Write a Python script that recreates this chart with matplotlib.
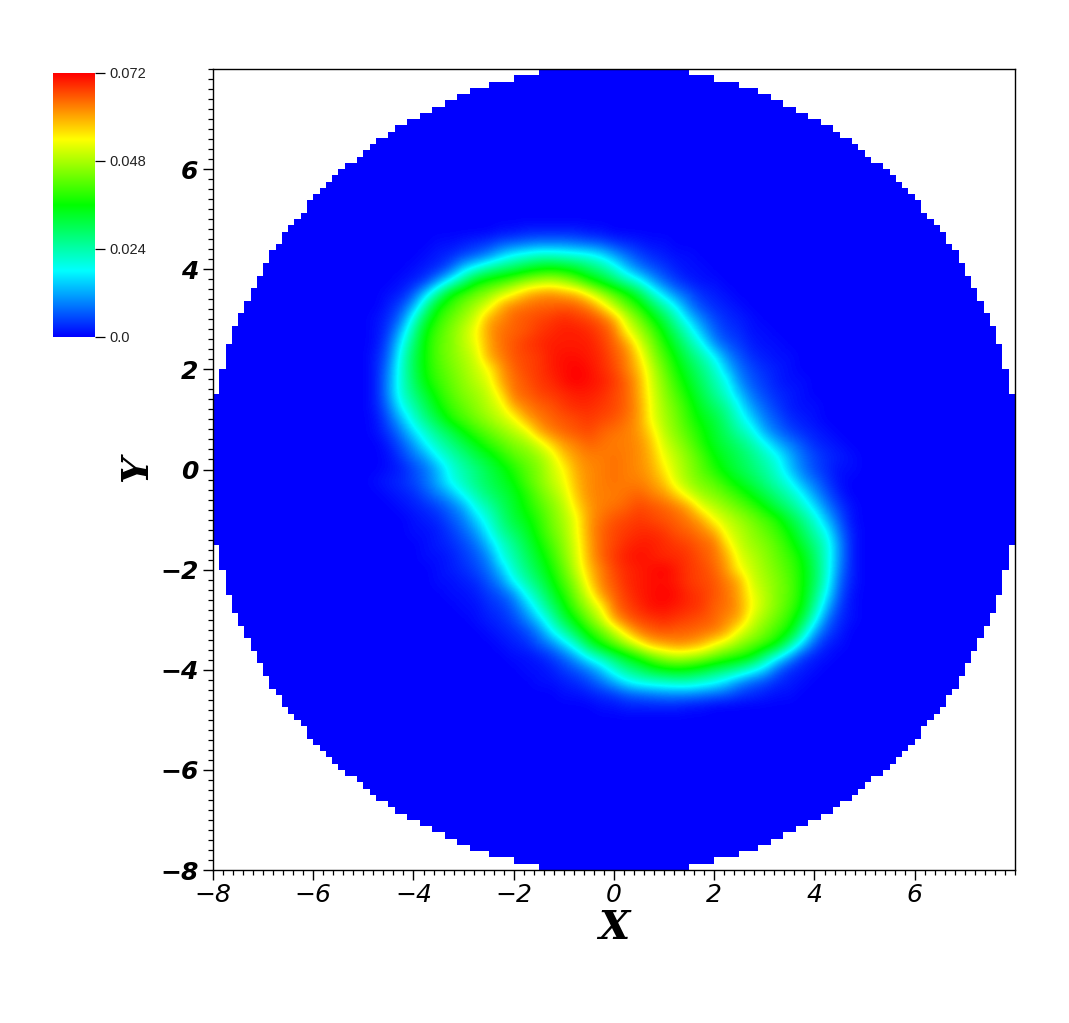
import numpy as np
import matplotlib
matplotlib.use('Agg')
from matplotlib import pyplot as plt
from matplotlib.colors import LinearSegmentedColormap

W, H = 1069, 1023

# density, in units of 0.001
# columns x = -4.75..4.75, rows y = 4.75..-4.75, step 0.25
rows = [
    [0,0,0,0, 0,0,0,0, 0,0,1,1, 2,2,2,2, 2,1,1,0, 0,0,0,0, 0,0,0,0, 0,0,0,0, 0,0,0,0,0,0,0],
    [0,0,0,0, 0,1,1,2, 3,4,6,7, 8,9,9,9, 8,7,6,4, 3,2,1,1, 0,0,0,0, 0,0,0,0, 0,0,0,0,0,0,0],
    [0,0,0,0, 1,2,3,5, 7,10,15,19, 21,23,23,22, 21,20,17,12, 8,5,3,2, 1,1,0,0, 0,0,0,0, 0,0,0,0,0,0,0],
    [0,0,0,1, 2,3,7,15, 20,25,28,30, 33,35,36,35, 33,29,26,21, 14,9,6,4, 2,1,1,0, 0,0,0,0, 0,0,0,0,0,0,0],
    [0,0,1,2, 4,11,19,27, 35,38,40,43, 46,48,49,47, 43,38,34,29, 24,19,12,7, 4,2,1,1, 0,0,0,0, 0,0,0,0,0,0,0],
    [0,1,2,6, 15,26,36,40, 43,46,50,54, 59,61,62,60, 59,53,47,42, 37,31,22,15, 9,6,3,2, 1,0,0,0, 0,0,0,0,0,0,0],
    [0,2,5,12, 25,36,40,44, 48,52,60,63, 64,65,65,66, 65,63,57,49, 43,38,31,24, 17,9,5,3, 2,1,0,0, 0,0,0,0,0,0,0],
    [1,3,8,20, 32,39,43,47, 51,60,62,65, 66,67,68,69, 68,67,65,60, 50,44,37,31, 23,15,9,5, 3,2,1,0, 0,0,0,0,0,0,0],
    [1,4,13,25, 36,41,45,49, 54,61,64,65, 66,68,69,70, 70,69,67,64, 54,48,42,35, 28,21,13,7, 4,3,1,1, 0,0,0,0,0,0,0],
    [1,6,17,28, 37,42,45,49, 53,60,64,66, 68,69,70,70, 70,70,68,65, 61,52,45,38, 32,25,19,10, 6,4,2,1, 1,0,0,0,0,0,0],
    [2,7,20,30, 37,42,45,48, 51,60,63,66, 67,68,70,71, 71,70,69,66, 63,56,47,41, 35,29,24,18, 10,6,3,2, 1,1,0,0,0,0,0],
    [2,9,21,30, 37,41,44,47, 50,54,61,65, 67,68,70,71, 72,71,69,67, 63,58,50,43, 37,32,27,22, 14,8,5,3, 2,1,0,0,0,0,0],
    [2,10,21,29, 36,40,43,46, 49,52,60,64, 66,68,69,71, 72,71,70,68, 65,60,51,45, 39,34,29,24, 19,10,6,4, 2,1,1,0,0,0,0],
    [2,10,21,27, 33,38,42,45, 47,50,56,64, 65,67,68,69, 70,70,69,67, 65,60,52,46, 41,36,31,26, 21,14,8,5, 3,2,1,0,0,0,0],
    [2,8,18,24, 30,36,40,43, 46,49,52,60, 63,65,66,68, 69,69,68,67, 65,61,53,47, 43,38,33,29, 25,18,11,7, 4,2,1,1,0,0,0],
    [1,6,13,21, 27,32,38,41, 44,47,50,53, 60,63,65,66, 67,68,67,66, 64,61,53,48, 44,39,35,32, 27,21,15,9, 6,3,2,1,0,0,0],
    [1,4,9,16, 22,27,31,36, 40,43,46,49, 52,60,63,65, 66,67,65,64, 63,61,56,49, 45,41,37,33, 29,24,20,12, 8,5,3,2,1,0,0],
    [0,2,6,11, 18,23,27,31, 35,39,42,45, 47,51,57,61, 63,65,64,63, 63,62,58,51, 47,43,38,34, 31,28,24,19, 13,9,6,3,2,1,0],
    [0,1,4,8, 12,19,23,27, 31,34,38,42, 44,47,51,58, 61,63,63,64, 63,62,59,53, 49,45,41,36, 33,30,27,23, 19,13,8,5,3,2,1],
    [0,1,2,5, 8,13,20,24, 27,31,34,38, 42,45,50,54, 60,62,63,64, 63,62,60,55, 50,46,42,38, 34,31,28,25, 21,14,9,5,3,1,1],
    [1,2,3,5, 8,13,19,23, 27,30,33,36, 41,45,49,53, 59,62,63,64, 63,63,61,58, 51,47,44,42, 38,34,31,27, 23,19,12,8,4,1,0],
    [0,1,2,3, 6,9,13,19, 24,28,31,34, 38,43,47,51, 58,62,63,63, 64,65,63,61, 57,51,47,45, 42,39,35,31, 27,23,18,11,6,2,0],
    [0,0,1,2, 3,5,8,12, 20,24,29,33, 37,41,45,49, 56,61,63,64, 65,67,66,65, 63,60,52,49, 46,43,40,36, 31,27,22,16,9,4,1],
    [0,0,0,1, 2,3,6,9, 15,21,27,32, 35,39,44,48, 53,61,64,66, 67,68,67,66, 65,63,60,53, 50,47,44,41, 38,32,27,21,13,6,1],
    [0,0,0,1, 1,2,4,7, 11,18,25,29, 33,38,43,47, 53,61,65,67, 68,69,69,68, 66,65,63,60, 52,49,46,43, 40,36,30,24,18,8,2],
    [0,0,0,0, 1,2,3,5, 8,14,21,26, 31,36,41,46, 52,60,65,67, 69,70,70,69, 68,67,65,64, 56,50,47,45, 42,38,33,27,21,10,2],
    [0,0,0,0, 1,1,2,4, 6,10,19,24, 29,34,39,45, 51,60,65,68, 70,71,70,69, 69,68,66,64, 60,52,49,46, 43,40,36,29,21,10,2],
    [0,0,0,0, 0,1,2,3, 5,8,14,22, 27,32,37,43, 50,58,63,67, 69,70,71,72, 70,68,67,65, 61,54,50,47, 44,41,37,30,21,9,2],
    [0,0,0,0, 0,1,1,2, 3,6,10,18, 24,29,35,41, 47,56,63,66, 69,70,71,71, 70,68,67,66, 63,60,51,48, 45,42,37,30,20,7,2],
    [0,0,0,0, 0,0,1,1, 2,4,6,10, 19,25,32,38, 45,52,61,65, 68,70,71,72, 71,69,68,66, 64,60,53,49, 45,42,37,28,17,6,1],
    [0,0,0,0, 0,0,0,1, 1,3,4,7, 13,21,28,35, 42,48,54,64, 67,69,71,71, 70,69,68,65, 64,61,54,49, 45,41,36,25,13,4,1],
    [0,0,0,0, 0,0,0,0, 1,2,3,5, 9,15,23,31, 37,44,50,60, 65,67,68,69, 68,67,66,65, 62,60,51,47, 43,39,32,20,8,3,1],
    [0,0,0,0, 0,0,0,0, 0,1,2,3, 5,9,17,24, 31,38,43,49, 57,63,65,66, 65,65,64,63, 60,52,48,44, 40,36,25,12,5,2,0],
    [0,0,0,0, 0,0,0,0, 0,0,1,2, 3,6,9,15, 22,31,37,42, 47,53,59,60, 62,61,59,54, 50,46,43,40, 36,26,15,6,2,1,0],
    [0,0,0,0, 0,0,0,0, 0,0,0,1, 1,2,4,7, 12,19,24,29, 34,38,43,47, 49,48,46,43, 40,38,35,27, 19,11,4,2,1,0,0],
    [0,0,0,0, 0,0,0,0, 0,0,0,0, 1,1,2,4, 6,9,14,21, 26,29,33,35, 36,35,33,30, 28,25,20,15, 7,3,2,1,0,0,0],
    [0,0,0,0, 0,0,0,0, 0,0,0,0, 0,1,1,2, 3,5,8,12, 17,20,21,22, 23,23,21,19, 15,10,7,5, 3,2,1,0,0,0,0],
    [0,0,0,0, 0,0,0,0, 0,0,0,0, 0,0,0,1, 1,2,3,4, 6,7,8,9, 9,9,8,7, 6,4,3,2, 1,1,0,0,0,0,0],
    [0,0,0,0, 0,0,0,0, 0,0,0,0, 0,0,0,0, 0,0,1,1, 2,2,2,2, 2,1,1,0, 0,0,0,0, 0,0,0,0,0,0,0],
]
major_ticks = [-8, -6, -4, -2, 0, 2, 4, 6]
cbar_ticks = [0.0, 0.024, 0.048, 0.072]
cbar_labels = ['0.0', '0.024', '0.048', '0.072']

# one ring of zeros so the field fades into the blue disc
field = np.pad(np.array(rows), 1) / 1000.0
cmap = LinearSegmentedColormap.from_list('rainbow4', ['#0000ff', '#00ffff', '#00ff00', '#ffff00', '#ff0000'])
cmap.set_bad((1, 1, 1, 0))

fig = plt.figure(figsize=(W / 100, H / 100), dpi=100)
ax = fig.add_axes([213 / W, 1 - 870 / H, 802 / W, 801 / H])

# blocky disc of the simulation domain, 128 cells across
edges = np.linspace(-8, 8, 129)
cx = (edges[:-1] + edges[1:]) / 2
xx, yy = np.meshgrid(cx, cx)
disc = np.ma.masked_where(np.hypot(xx, yy) > 8.07, np.zeros_like(xx))
ax.pcolormesh(edges, edges, disc, cmap=cmap, vmin=0, vmax=0.072, clip_on=False, zorder=1)

ax.imshow(field, cmap=cmap, vmin=0, vmax=0.072, interpolation='bicubic',
          extent=[-5.125, 5.125, -5.125, 5.125], origin='upper', aspect='auto', zorder=2)

ax.set_xlim(-8, 8)
ax.set_ylim(-8, 8)
ax.set_xticks(major_ticks)
ax.set_yticks(major_ticks)
ax.set_xticks(np.arange(-8, 8.01, 0.2), minor=True)
ax.set_yticks(np.arange(-8, 8.01, 0.2), minor=True)
ax.tick_params(which='major', length=7, width=1.0, direction='out')
ax.tick_params(which='minor', length=3.6, width=0.9, direction='out')
for s in ax.spines.values():
    s.set_linewidth(1.0)

lab = [str(t).replace('-', '\u2212') for t in major_ticks]
ax.set_xticklabels(lab, family='DejaVu Sans', style='oblique', fontsize=18)
ax.set_yticklabels(lab, family='DejaVu Sans', style='oblique', weight='bold', fontsize=18)
ax.tick_params(axis='x', pad=2.5)
ax.tick_params(axis='y', pad=3.5)

fig.text(614 / W, 1 - 928 / H, 'X', family='DejaVu Serif', style='italic', weight='bold',
         fontsize=29, ha='center', va='center')
fig.text(137 / W, 1 - 469 / H, 'Y', family='DejaVu Serif', style='italic', weight='bold',
         fontsize=27, ha='center', va='center', rotation=90)

# colour bar
cax = fig.add_axes([53 / W, 1 - 337 / H, 42 / W, 264 / H])
cax.imshow(np.linspace(0.072, 0, 256)[:, None], cmap=cmap, vmin=0, vmax=0.072,
           aspect='auto', extent=[0, 1, 0, 0.072])
cax.set_xticks([])
cax.yaxis.tick_right()
cax.set_yticks(cbar_ticks)
cax.set_yticklabels(cbar_labels, family='Liberation Sans', fontsize=10.5, color='#222222')
cax.tick_params(axis='y', length=7.2, width=0.9, pad=3.3)
for s in cax.spines.values():
    s.set_visible(False)

fig.savefig('out.png', dpi=100)
